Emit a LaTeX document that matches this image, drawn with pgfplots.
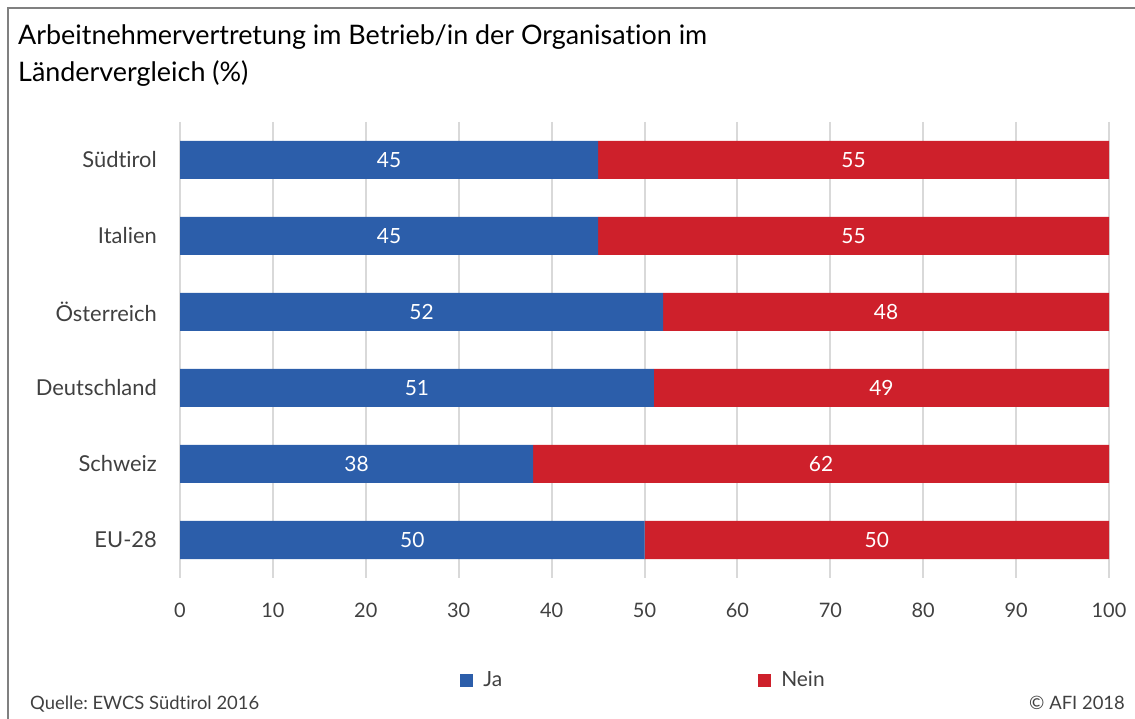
\documentclass[border=0pt]{standalone}
\usepackage{pgfplots}
\pgfplotsset{compat=1.18}
\usepackage{pgfplotstable}
\usepackage{fontspec}
\setmainfont{Lato}[Ligatures=NoCommon]
\definecolor{ja}{RGB}{44,94,170}
\definecolor{nein}{RGB}{206,32,43}
\definecolor{gridc}{RGB}{217,217,217}
\definecolor{txt}{RGB}{64,64,64}
\definecolor{frame}{RGB}{128,128,128}
\pgfplotstableread{
y ja nein
0 45 55
1 45 55
2 52 48
3 51 49
4 38 62
5 50 50
}\data
\frenchspacing
\begin{document}
\begin{tikzpicture}[x=1bp,y=1bp]
\path[use as bounding box] (0,0) rectangle (1135,719);
\draw[frame, line width=1.5bp] (8,0) -- (8,711) -- (1135,711);
\node[anchor=base west, inner sep=0, font=\fontsize{27}{32}\selectfont, text=black] at (18,674) {Arbeitnehmervertretung im Betrieb/in der Organisation im};
\node[anchor=base west, inner sep=0, font=\fontsize{27}{32}\selectfont, text=black] at (18,637) {Ländervergleich (\%)};
\node[anchor=base west, inner sep=0, font=\fontsize{18.5}{22}\selectfont, text=txt] at (30,9) {Quelle: EWCS Südtirol 2016};
\node[anchor=base east, inner sep=0, font=\fontsize{18.5}{22}\selectfont, text=txt] at (1125,9) {© AFI 2018};
\begin{axis}[
  at={(180bp,141bp)}, anchor=south west,
  scale only axis, width=929bp, height=456bp,
  xbar stacked, bar width=38bp,
  xmin=0, xmax=100, ymin=-0.5, ymax=5.5,
  y dir=reverse,
  ytick={0,1,2,3,4,5},
  yticklabels={Südtirol,Italien,Österreich,Deutschland,Schweiz,EU-28},
  xtick={0,10,...,100},
  xmajorgrids, major grid style={gridc, line width=2bp},
  axis line style={draw=none},
  major tick length=0,
  /pgf/number format/assume math mode=true,
  xticklabel style={font=\fontsize{20}{24}\selectfont, text=txt, anchor=north, inner sep=0, yshift=-25bp},
  yticklabel style={font=\fontsize{22}{26}\selectfont, text=txt, anchor=east, inner sep=0, xshift=-23bp},
  legend columns=2,
  legend style={at={(0.4990,-0.2237)}, anchor=center, draw=none, fill=none, inner sep=0,
    font=\fontsize{21}{24}\selectfont, text=txt,
    /tikz/every even column/.append style={column sep=254bp}},
  legend cell align=left,
  legend image code/.code={\fill[#1] (0bp,-6.5bp) rectangle (13bp,6.5bp); \path (21bp,0bp);},
]
\addplot[fill=ja, draw=none] table[x=ja, y=y] {\data};
\addlegendentry{Ja}
\addplot[fill=nein, draw=none] table[x=nein, y=y] {\data};
\addlegendentry{Nein}
\end{axis}
\begin{axis}[
  at={(180bp,141bp)}, anchor=south west,
  scale only axis, width=929bp, height=456bp,
  xmin=0, xmax=100, ymin=-0.5, ymax=5.5,
  y dir=reverse, hide axis,
  nodes near coords, point meta=explicit,
  every node near coord/.append style={anchor=center, text=white, font=\fontsize{21}{24}\selectfont},
  /pgf/number format/assume math mode=true,
]
\addplot[draw=none, mark=none] table[x expr=\thisrow{ja}/2, y=y, meta=ja] {\data};
\addplot[draw=none, mark=none] table[x expr=\thisrow{ja}+\thisrow{nein}/2, y=y, meta=nein] {\data};
\end{axis}
\end{tikzpicture}
\end{document}
